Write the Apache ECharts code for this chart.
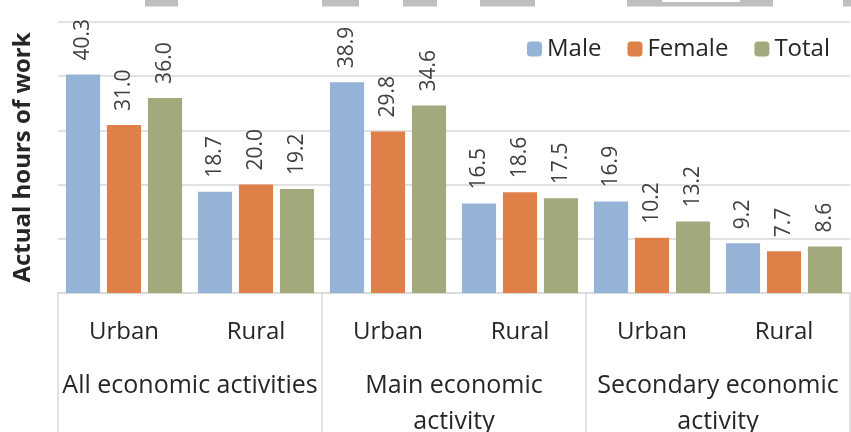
<!DOCTYPE html>
<html>
<head>
<meta charset="utf-8">
<script src="https://cdn.jsdelivr.net/npm/echarts@6/dist/echarts.min.js"></script>
<style>
	html, body {
		height: 100%;
		width: 100%;
		margin: 0;
		padding: 0;
		background: #fff;
	}
	#chartBox {
		width: 851px;
		height: 432px;
	}
</style>
</head>
<body>
<div id="chartBox"></div>
<script>
	// 数据
	var categories = ['Urban', 'Rural', 'Urban', 'Rural', 'Urban', 'Rural'];
	var groups = ['All economic activities', 'Main economic\nactivity', 'Secondary economic\nactivity'];
	var male = [40.3, 18.7, 38.9, 16.5, 16.9, 9.2];
	var female = [31.0, 20.0, 29.8, 18.6, 10.2, 7.7];
	var total = [36.0, 19.2, 34.6, 17.5, 13.2, 8.6];
	var seriesNames = ['Male', 'Female', 'Total'];
	var colors = ['#95B3D7', '#DE8047', '#A4A97D'];

	var chart = echarts.init(document.getElementById('chartBox'));

	var font = 'Open Sans';
	var labelCfg = {
		show: true,
		position: 'top',
		rotate: 90,
		align: 'left',
		verticalAlign: 'middle',
		distance: 14,
		color: '#404040',
		fontFamily: font,
		fontSize: 21,
		formatter: function (p) { return p.value.toFixed(1); }
	};

	function makeSeries(name, data) {
		return {
			name: name,
			type: 'bar',
			data: data,
			xAxisIndex: 0,
			barGap: '20%',
			barCategoryGap: '12%',
			label: labelCfg
		};
	}

	// 顶部水印残影
	var wm = [[145, 33], [322, 37], [403, 34], [480, 55], [627, 146], [843, 10]];
	var graphics = wm.map(function (r) {
		return { type: 'rect', shape: { x: r[0], y: 0, width: r[1], height: 6.5 }, style: { fill: '#BFBFBF' }, z: -1 };
	});
	graphics.push({ type: 'rect', shape: { x: 662, y: 0, width: 78, height: 2 }, style: { fill: '#fff' }, z: -1 });

	var option = {
		animation: false,
		color: colors,
		graphic: graphics,
		grid: { left: 58, right: 1, top: 22, bottom: 139, containLabel: false, outerBoundsMode: 'none' },
		legend: {
			data: seriesNames,
			right: 16,
			top: 32,
			itemWidth: 15,
			itemHeight: 15,
			itemGap: 26,
			textStyle: { fontFamily: font, fontSize: 24, color: '#262626' }
		},
		xAxis: [{
			type: 'category',
			data: categories,
			position: 'bottom',
			axisLine: { lineStyle: { color: '#D9D9D9', width: 1.5 } },
			axisTick: { show: false },
			axisLabel: { fontFamily: font, fontSize: 24, color: '#262626', margin: 24, lineHeight: 30 }
		}, {
			type: 'category',
			data: groups,
			position: 'bottom',
			offset: 0,
			axisLine: { show: false },
			axisTick: { show: true, length: 140, interval: 0, lineStyle: { color: '#D9D9D9', width: 1.5 } },
			axisLabel: { fontFamily: font, fontSize: 25, color: '#262626', margin: 75, lineHeight: 36, interval: 0 }
		}],
		yAxis: {
			type: 'value',
			min: 0,
			max: 50,
			interval: 10,
			name: 'Actual hours of work',
			nameLocation: 'middle',
			nameGap: 23,
			nameTextStyle: { fontFamily: font, fontSize: 24, fontWeight: 'bold', color: '#262626' },
			axisLabel: { show: false },
			axisLine: { show: false },
			axisTick: { show: false },
			splitLine: { lineStyle: { color: '#D9D9D9', width: 1.5 } }
		},
		series: [
			makeSeries(seriesNames[0], male),
			makeSeries(seriesNames[1], female),
			makeSeries(seriesNames[2], total)
		]
	};
	chart.setOption(option);
</script>
</body>
</html>
